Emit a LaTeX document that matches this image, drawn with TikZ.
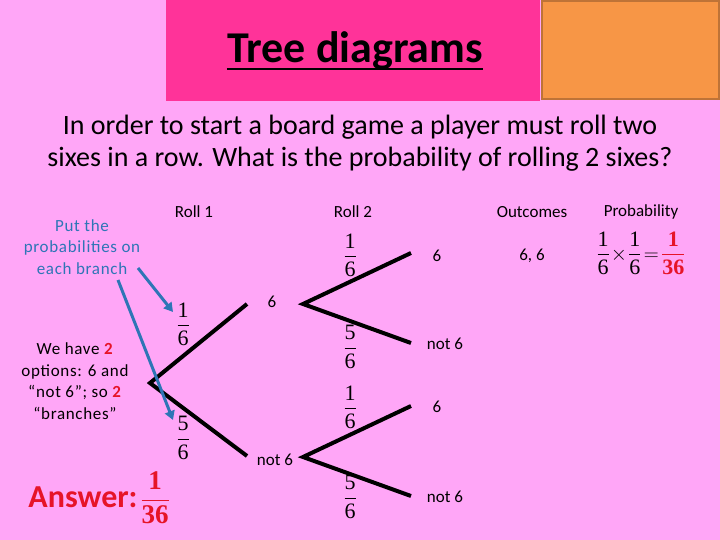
\documentclass[tikz,border=0pt]{standalone}
\usepackage{amsmath}
\usepackage{fontspec}
\setmainfont{Carlito}
\newfontfamily\fracfont{Liberation Serif}
\usetikzlibrary{arrows.meta,calc}
\definecolor{bgpink}{RGB}{255,166,247}
\definecolor{headpink}{RGB}{255,51,153}
\definecolor{headorange}{RGB}{247,150,70}
\definecolor{orangeedge}{RGB}{190,115,55}
\definecolor{hintblue}{RGB}{46,117,182}
\definecolor{ansred}{RGB}{230,20,40}
\newcommand\myfr[2]{\dfrac{\text{\fracfont #1}}{\text{\fracfont #2}}}
\newcommand\myfrb[2]{\dfrac{\text{\fracfont\bfseries #1}}{\text{\fracfont\bfseries #2}}}
\begin{document}
\begin{tikzpicture}[x=1pt,y=-1pt,
  branch/.style={line width=4pt, line join=miter},
  lbl/.style={font=\fontsize{17}{20}\selectfont, inner sep=0pt},
  fracl/.style={font=\fontsize{22}{25}\selectfont, inner sep=0pt},
  hint/.style={font=\fontsize{17}{21.5}\selectfont\addfontfeatures{LetterSpace=4}, align=center, inner sep=0pt},
  bluearrow/.style={draw=hintblue, line width=3pt, -{Triangle[length=9pt,width=10pt]}}]
\fill[bgpink] (0,0) rectangle (720,540);
\useasboundingbox (0,0) rectangle (720,540);
% header
\fill[headpink] (166,0) rectangle (540,101);
\filldraw[fill=headorange, draw=orangeedge, line width=2pt] (542,1) rectangle (719,99);
\node[font=\bfseries\fontsize{44}{48}\selectfont, inner sep=0pt, anchor=base] (title) at (355,63) {Tree diagrams};
\draw[line width=2.5pt] ($(title.base west)+(0,6)$) -- ($(title.base east)+(0,6)$);
% question
\node[font=\fontsize{28}{32}\selectfont, align=center, inner sep=0pt] (q) at (360,143)
  {In order to start a board game a player must roll two\\sixes in a row. What is the probability of rolling 2 sixes?};
% headings
\node[lbl] (h1) at (194,212) {Roll 1};
\node[lbl] (h2) at (353,212) {Roll 2};
\node[lbl] (h3) at (532,212) {Outcomes};
\node[lbl] (h4) at (641,212) {Probability};
% tree coordinates
\coordinate (r0) at (150,383);
\coordinate (a1) at (247,304);
\coordinate (a2) at (247,456);
\coordinate (b0) at (303,304);
\coordinate (b1) at (411,253);
\coordinate (b2) at (411,343);
\coordinate (c0) at (303,457);
\coordinate (c1) at (411,406);
\coordinate (c2) at (411,496);
\draw[branch] (a1) -- (r0) -- (a2);
\draw[branch] (b1) -- (b0) -- (b2);
\draw[branch] (c1) -- (c0) -- (c2);
% outcome labels
\node[lbl] (l1) at (272,302) {6};
\node[lbl] (l2) at (275,460) {not 6};
\node[lbl] (l3) at (437,256) {6};
\node[lbl] (l4) at (445,344) {not 6};
\node[lbl] (l5) at (437,407) {6};
\node[lbl] (l6) at (445,497) {not 6};
% fractions
\node[fracl] (f1) at (183,324) {$\myfr{1}{6}$};
\node[fracl] (f2) at (183,438) {$\myfr{5}{6}$};
\node[fracl] (f3) at (350,255) {$\myfr{1}{6}$};
\node[fracl] (f4) at (350,347) {$\myfr{5}{6}$};
\node[fracl] (f5) at (350,407) {$\myfr{1}{6}$};
\node[fracl] (f6) at (350,497) {$\myfr{5}{6}$};
% outcome row
\node[lbl] (o1) at (532,256) {6, 6};
\node[fracl] (p1) at (641,253) {$\myfr{1}{6}\mkern-3mu\times\mkern-3mu\myfr{1}{6}\mkern-3mu=\mkern-3mu\color{ansred}\myfrb{1}{36}$};
% hints
\node[hint, text=hintblue] (hb) at (82,247) {Put the\\probabilities on\\each branch};
\node[hint] (hw) at (75,381) {We have \textcolor{ansred}{\textbf{2}}\\options: 6 and\\“not 6”; so \textcolor{ansred}{\textbf{2}}\\“branches”};
\coordinate (s1) at (138,268);
\coordinate (e1) at (173,312);
\coordinate (s2) at (118,280);
\coordinate (e2) at (173,420);
\draw[bluearrow] (s1) -- (e1);
\draw[bluearrow] (s2) -- (e2);
% answer
\node[font=\bfseries\fontsize{32}{36}\selectfont, text=ansred, inner sep=0pt] (ans) at (83,497) {Answer:};
\node[font=\fontsize{27}{30}\selectfont, text=ansred, inner sep=0pt] (ansf) at (155,498) {$\myfrb{1}{36}$};
\end{tikzpicture}
\end{document}
